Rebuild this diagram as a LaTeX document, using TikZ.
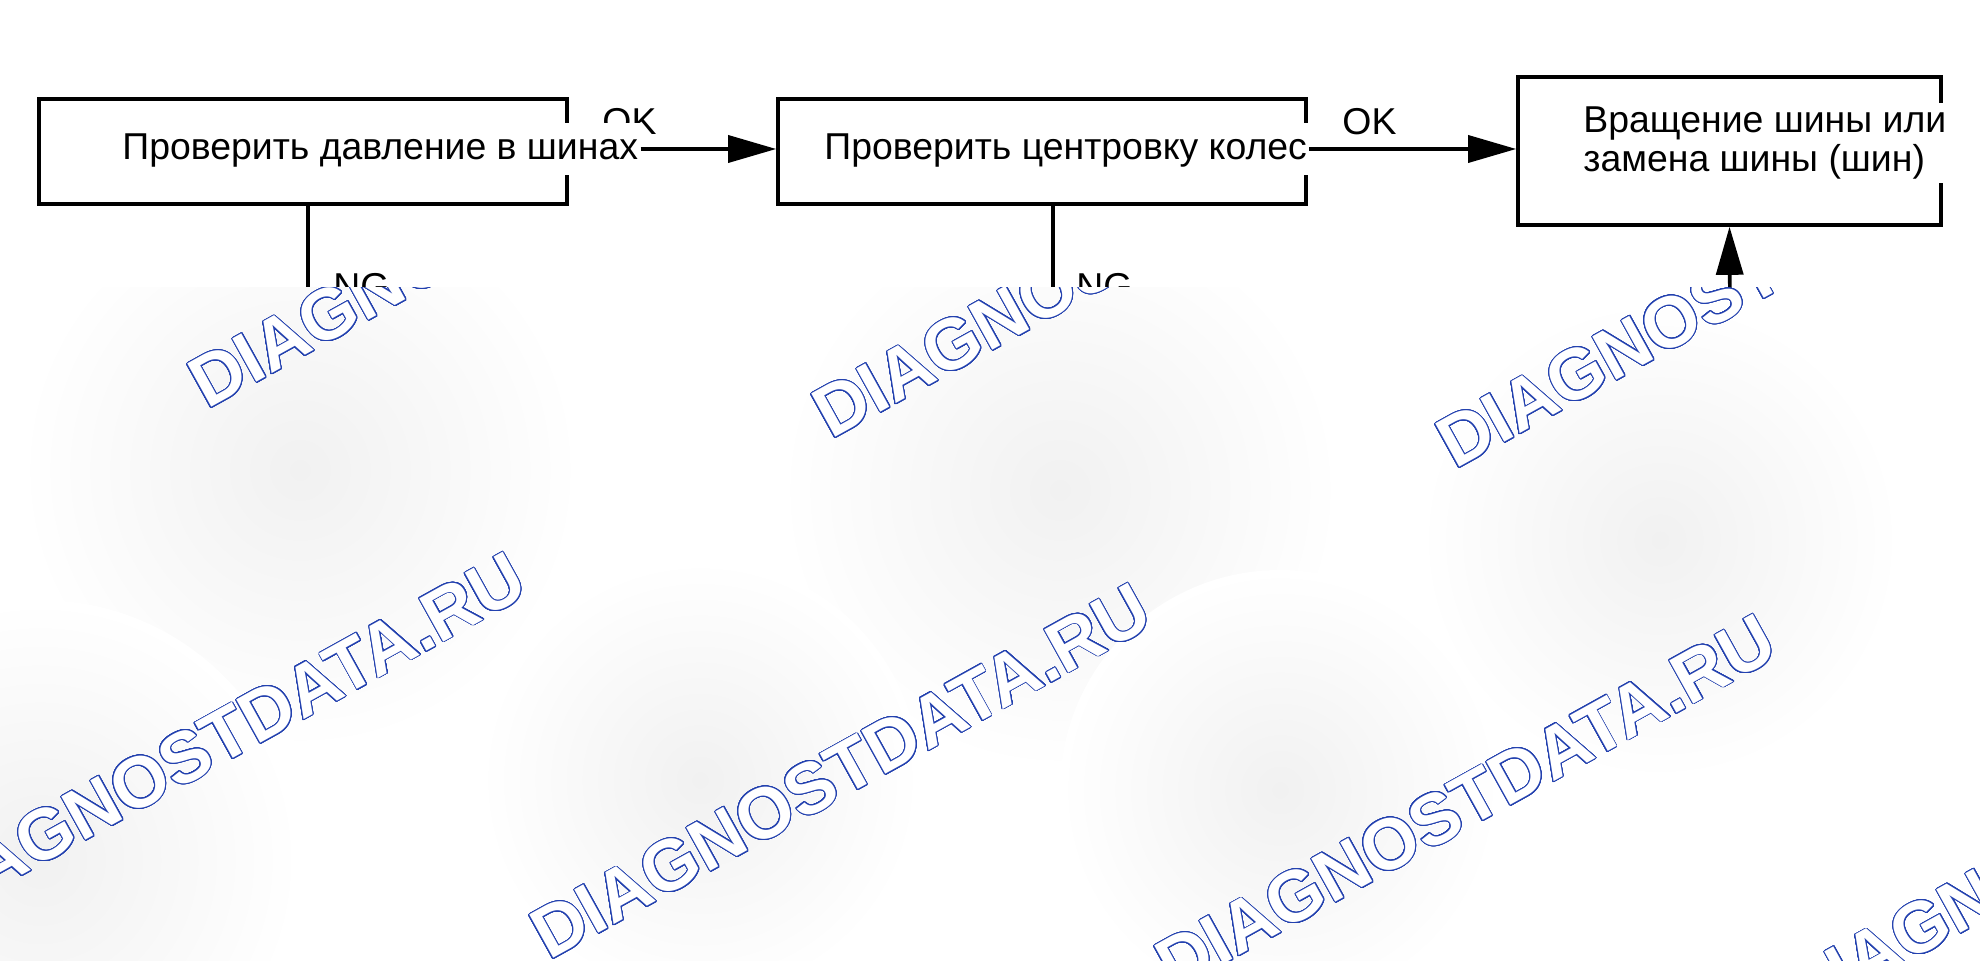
\documentclass[tikz,border=0pt]{standalone}
\usepackage{fontspec}
\setmainfont{Liberation Sans}
\usepackage{contour}
\usetikzlibrary{arrows.meta,calc}
\definecolor{wmblue}{RGB}{35,65,175}
\contourlength{0.45pt}
\contournumber{32}

\begin{document}
\begin{tikzpicture}[x=0.5pt,y=-0.5pt,
	chkbox/.style={draw,line width=1.8pt,inner sep=0,minimum width=264pt,minimum height=52.5pt},
	boxtext/.style={fill=white,inner xsep=1pt,inner ysep=0,font=\fontsize{18.7}{19.5}\selectfont},
	lbl/.style={inner sep=0,font=\fontsize{18.7}{19.5}\selectfont},
	flow/.style={line width=1.8pt,-{Triangle[length=24pt,width=13.5pt]}},
	wm/.style={anchor=base west,rotate=29,inner sep=0,font=\fontsize{36}{36}\selectfont\bfseries}]
	\useasboundingbox (0,0) rectangle (1980,961);
	% boxes
	\node[chkbox] (chk1) at (303,151.5) {};
	\node[chkbox] (chk2) at (1042,151.5) {};
	\node[chkbox,minimum width=211.5pt,minimum height=74pt] (act) at (1729.5,151) {};
	% labels
	\node[lbl,anchor=base west] (ok1) at (602,135) {OK};
	\node[lbl,anchor=base west] (ok2) at (1342,135) {OK};
	\node[lbl,anchor=north west] (ng1) at (333,273) {NG};
	\node[lbl,anchor=north west] (ng2) at (1076,273) {NG};
	% texts over the borders
	\node[boxtext,text height=18.5pt,text depth=7.5pt,anchor=base west] (chk1txt) at (120,160) {Проверить давление в шинах};
	\node[boxtext,text height=18.5pt,text depth=7.5pt,anchor=base west] (chk2txt) at (822,160) {Проверить центровку колес};
	\node[boxtext,align=left,inner ysep=2pt,anchor=west] (acttxt) at (1581,143) {Вращение шины или\\замена шины (шин)};
	% connectors
	\draw[flow] (chk1txt.east) -- (chk1txt.east -| chk2.west);
	\draw[flow] (chk2txt.east) -- (chk2txt.east -| act.west);
	\coordinate (ng1end) at (308,330);
	\coordinate (ng2end) at (1053,330);
	\coordinate (actin) at (1730,330);
	\draw[line width=1.8pt] (chk1.south -| ng1end) -- (ng1end);
	\draw[line width=1.8pt] (chk2.south -| ng2end) -- (ng2end);
	\draw[flow] (actin) -- (act.south);
	% watermark overlay
	\fill[white] (0,288) rectangle (1980,961);
	\begin{scope}
		\clip (0,288) rectangle (1980,961);
		\foreach \cx/\cy/\r in {300/470/140,1060/490/140,1660/540/120,40/860/130,700/780/110,1280/790/110}
			\shade[inner color=gray!11,outer color=white] (\cx,\cy) circle (\r pt);
		\foreach \k in {0,1,2}
			\node[wm] (wmA\k) at ({207+624*\k},{410+30*\k}) {\contour{wmblue}{\textcolor{white}{DIAGNOSTDATA.RU}}};
		\foreach \k in {0,...,3}
			\node[wm] (wmB\k) at ({-76+625*\k},{930+31*\k}) {\contour{wmblue}{\textcolor{white}{DIAGNOSTDATA.RU}}};
	\end{scope}
\end{tikzpicture}
\end{document}
